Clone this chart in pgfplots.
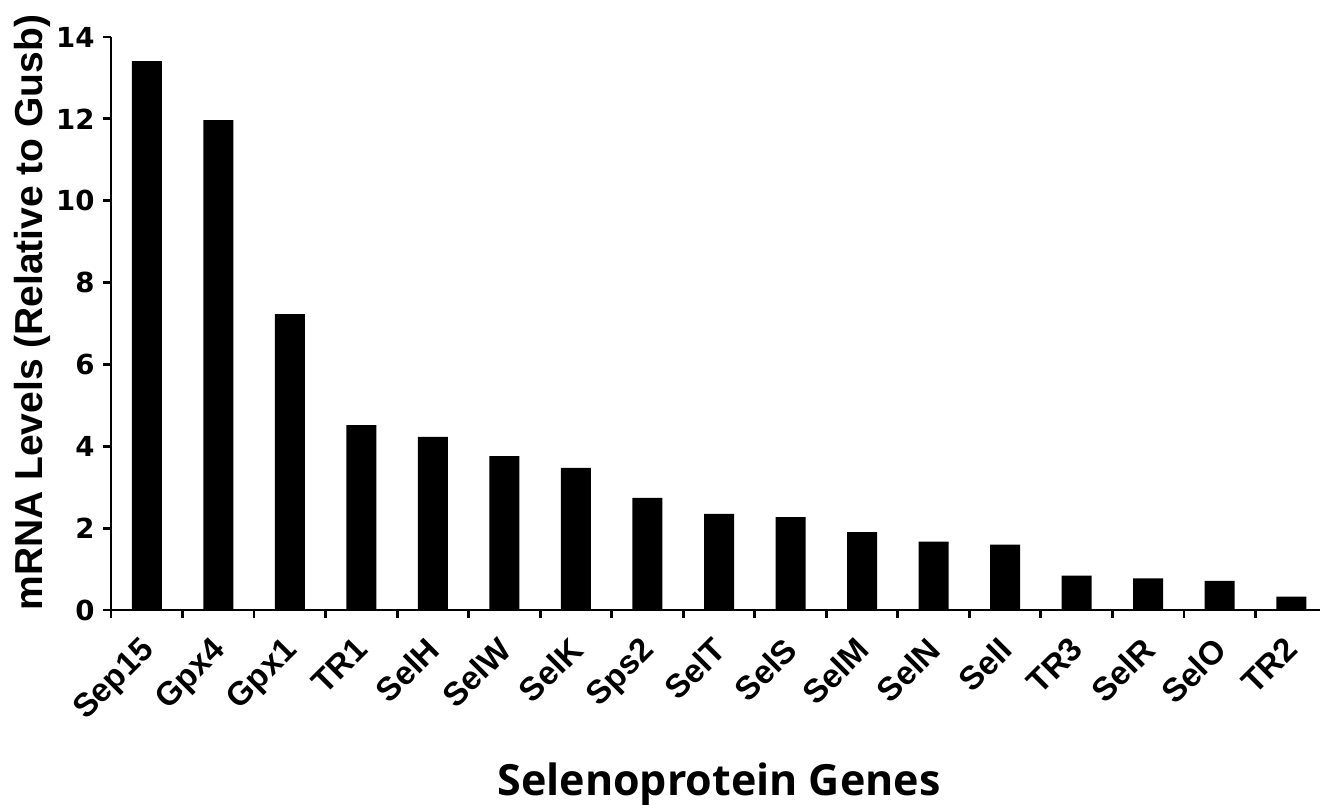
\documentclass[border=0pt]{standalone}
\usepackage{fontspec}
\usepackage{pgfplots}
\pgfplotsset{compat=1.18}
\newfontfamily\dejavu{DejaVu Sans}
\newfontfamily\libsans{Liberation Sans}
\newfontfamily\opensans{Open Sans}
\begin{document}
\begin{tikzpicture}
\useasboundingbox (0,0) rectangle (660pt,402pt);
\begin{axis}[
  at={(55.5pt,97pt)}, anchor=south west,
  scale only axis, width=608pt, height=286.5pt,
  xmin=-0.5, xmax=16.5, ymin=0, ymax=14,
  axis x line*=bottom, axis y line*=left,
  axis line style={line width=1.4pt},
  ytick={0,2,...,14},
  xtick={0,...,16},
  xticklabels={Sep15,Gpx4,Gpx1,TR1,SelH,SelW,SelK,Sps2,SelT,SelS,SelM,SelN,SelI,TR3,SelR,SelO,TR2},
  minor xtick={-0.5,0.5,...,16.5},
  tick align=outside,
  major tick length=4pt, minor tick length=4pt,
  every major x tick/.append style={draw=none},
  tick style={line width=1.4pt, black},
  minor tick style={line width=1.4pt, black},
  /pgf/number format/assume math mode=true,
  yticklabel style={font=\dejavu\bfseries\fontsize{13.8pt}{15pt}\selectfont, inner sep=0pt, xshift=-4pt},
  xticklabel style={font=\libsans\bfseries\fontsize{16.5pt}{18pt}\selectfont, inner sep=0pt, xshift=-4pt, yshift=-8.5pt, anchor=north east, rotate=45},
  ylabel={mRNA Levels (Relative to Gusb)},
  ylabel style={font=\libsans\bfseries\fontsize{19.5pt}{22pt}\selectfont, at={(axis description cs:-0.0567,0.519)}, anchor=base, rotate=0},
  xlabel={Selenoprotein Genes},
  xlabel style={font=\opensans\bfseries\fontsize{21.5pt}{24pt}\selectfont, at={(axis description cs:0.5,-0.323)}, anchor=base},
  clip=false,
]
\addplot[ybar, bar width=15pt, fill=black, draw=none] coordinates {
(0,13.41) (1,11.97) (2,7.23) (3,4.52) (4,4.23) (5,3.76) (6,3.47) (7,2.74) (8,2.35) (9,2.27) (10,1.90) (11,1.67) (12,1.60) (13,0.84) (14,0.77) (15,0.71) (16,0.33)
};
\end{axis}
\end{tikzpicture}
\end{document}
